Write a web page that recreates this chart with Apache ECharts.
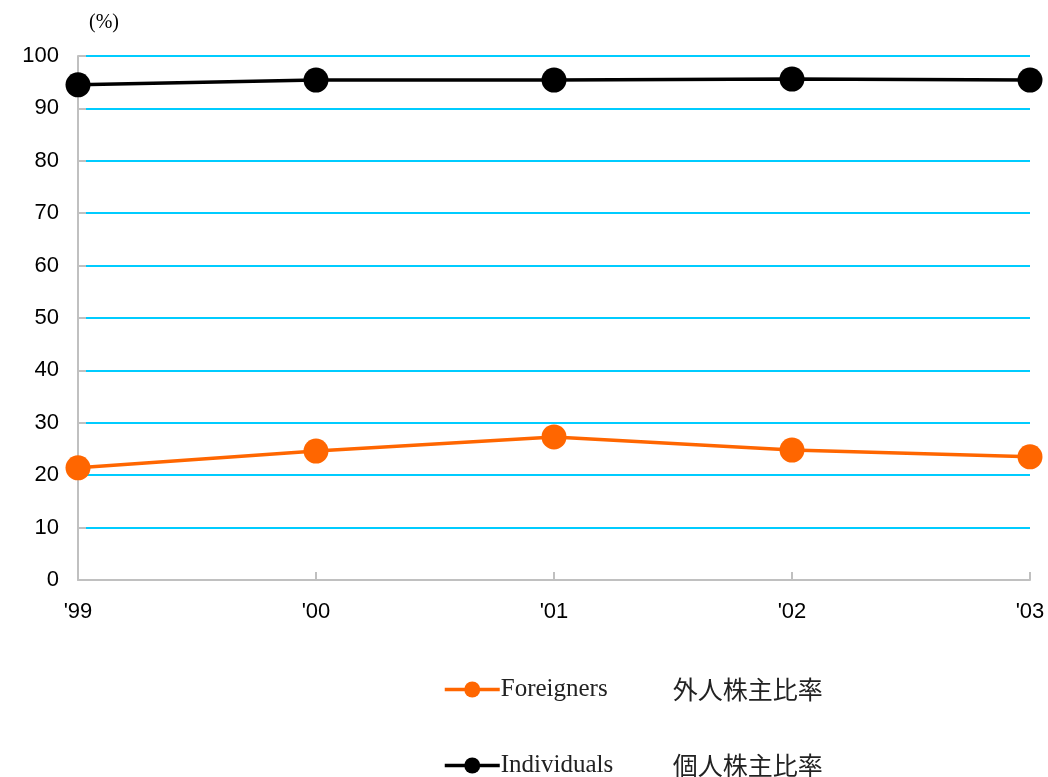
<!DOCTYPE html>
<html>
<head>
<meta charset="utf-8">
<script src="https://cdn.jsdelivr.net/npm/echarts@6/dist/echarts.min.js"></script>
<style>html,body{margin:0;padding:0;background:#fff}#c{width:1048px;height:777px}</style>
</head>
<body>
<div id="c"></div>
<script>
const categories = ["'99", "'00", "'01", "'02", "'03"];
const foreigners = [21.4, 24.6, 27.3, 24.8, 23.5];
const individuals = [94.5, 95.4, 95.4, 95.6, 95.4];
const seriesNames = ["Foreigners", "Individuals"];
const seriesJa = {"Foreigners": "外人株主比率", "Individuals": "個人株主比率"};
const unitLabel = "(%)";

function makeLegend(name, top) {
  return {
    orient: 'horizontal', left: 438, top: top,
    itemWidth: 55, itemHeight: 20, itemGap: 10,
    data: [name],
    lineStyle: {width: 3.5},
    formatter: n => '{a|' + n + '}{b|' + seriesJa[n] + '}',
    textStyle: {
      padding: [0, 0, 0, -4],
      rich: {
        a: {fontFamily: '"Liberation Serif", serif', fontSize: 25, color: '#222', width: 172},
        b: {fontFamily: '"Noto Sans CJK JP", sans-serif', fontSize: 25, color: '#222'}
      }
    }
  };
}

const chart = echarts.init(document.getElementById('c'));
chart.setOption({
  animation: false,
  backgroundColor: '#fff',
  grid: {left: 78, right: 18, top: 56, bottom: 197},
  graphic: [{type: 'text', left: 89, top: 13, style: {text: unitLabel, font: '20px "Liberation Serif", serif', fill: '#000'}}],
  legend: [makeLegend(seriesNames[0], 672), makeLegend(seriesNames[1], 748)],
  xAxis: {
    type: 'category', data: categories, boundaryGap: false,
    axisLine: {lineStyle: {color: '#c0c0c0', width: 2}},
    axisTick: {inside: true, length: 8, lineStyle: {color: '#c0c0c0', width: 2}},
    axisLabel: {color: '#000', fontSize: 22, margin: 21, fontFamily: '"Liberation Sans", Arial, sans-serif'}
  },
  yAxis: {
    type: 'value', min: 0, max: 100, interval: 10,
    axisLine: {show: true, lineStyle: {color: '#c0c0c0', width: 2}},
    axisTick: {show: true, inside: true, length: 8, lineStyle: {color: '#c0c0c0', width: 2}},
    splitLine: {lineStyle: {color: '#00ccff', width: 2}},
    axisLabel: {color: '#000', fontSize: 22, margin: 19, fontFamily: '"Liberation Sans", Arial, sans-serif'}
  },
  series: [
    {name: 'Foreigners', type: 'line', data: foreigners, symbol: 'circle', symbolSize: 25,
     itemStyle: {color: '#ff6600'}, lineStyle: {color: '#ff6600', width: 3.5}},
    {name: 'Individuals', type: 'line', data: individuals, symbol: 'circle', symbolSize: 25,
     itemStyle: {color: '#000'}, lineStyle: {color: '#000', width: 3.5}}
  ]
});
</script>
</body>
</html>
